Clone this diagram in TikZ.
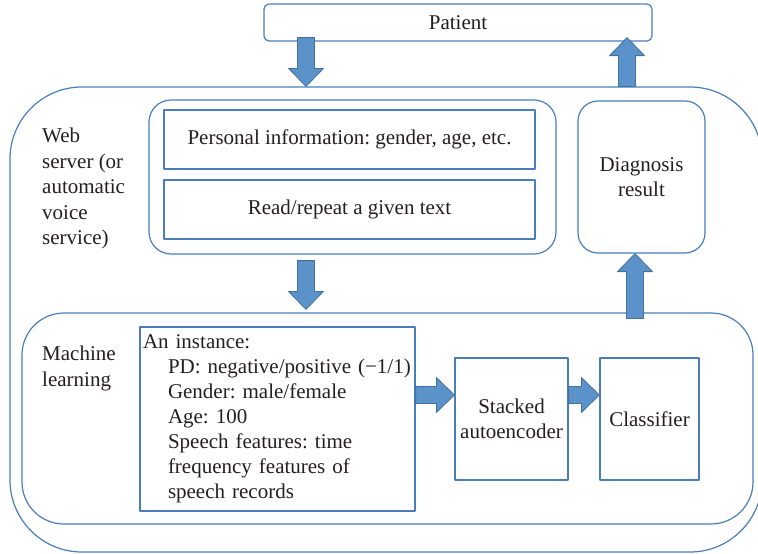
\documentclass[tikz,border=0pt]{standalone}
\usepackage{fontspec}
\setmainfont{Liberation Serif}
\usetikzlibrary{calc}
\definecolor{boxline}{RGB}{74,126,187}
\definecolor{arrowfill}{RGB}{91,146,201}
\definecolor{arrowline}{RGB}{65,113,156}
\definecolor{textcol}{RGB}{35,31,32}
\frenchspacing
% block arrow from #1 to #2 (tip at #2)
\newcommand{\fatarrow}[2]{%
  \path (#1) coordinate (fa-s) (#2) coordinate (fa-t);
  \path ($(fa-t)!18pt!(fa-s)$) coordinate (fa-b);
  \filldraw[fat arrow] ($(fa-s)!8.5pt!90:(fa-t)$) -- ($(fa-b)!8.5pt!-90:(fa-s)$) -- ($(fa-b)!17.5pt!-90:(fa-s)$)
    -- (fa-t) -- ($(fa-b)!17.5pt!90:(fa-s)$) -- ($(fa-b)!8.5pt!90:(fa-s)$) -- ($(fa-s)!8.5pt!-90:(fa-t)$) -- cycle;
}
\begin{document}
\begin{tikzpicture}[x=1pt, y=-1pt, line join=round, font=\fontsize{21}{25.5}\selectfont, text=textcol]
	\tikzset{box/.style={draw=boxline, line width=1.2pt, inner sep=0pt, align=center},
		fat arrow/.style={fill=arrowfill, draw=arrowline, line width=0.8pt}}
	\useasboundingbox (0,0) rectangle (758,554);
	% outer parts
	\node[box, rounded corners=5pt, minimum width=388pt, minimum height=37pt] (patient) at (458,22.5) {Patient};
	\node[box, rounded corners=72pt, minimum width=752pt, minimum height=465pt] (web) at (386,319.5) {};
	\node[anchor=north west, align=left, inner sep=0pt] (weblabel) at (42,128) {Web\\server (or\\automatic\\voice\\service)};
	% web server
	\node[box, rounded corners=22pt, minimum width=407pt, minimum height=154pt] (form) at (352.5,177) {};
	\node[box, minimum width=371pt, minimum height=59pt] (personal) at (349.5,139.5) {Personal information: gender, age, etc.};
	\node[box, minimum width=371pt, minimum height=59pt] (read) at (349.5,209.5) {Read/repeat a given text};
	\node[box, rounded corners=20pt, minimum width=127pt, minimum height=152pt] (diag) at (641.5,177) {Diagnosis\\result};
	% machine learning
	\node[box, rounded corners=42pt, minimum width=731pt, minimum height=211pt] (ml) at (387.5,418.5) {};
	\node[anchor=north west, align=left, inner sep=0pt] (mllabel) at (42,346) {Machine\\learning};
	\node[box, align=left, inner xsep=3pt, text width=269pt, minimum height=184pt, font=\fontsize{21}{25}\selectfont] (instance) at (277.5,419)
		{An instance:\\
		\hspace*{25pt}PD: negative/positive (−1/1)\\
		\hspace*{25pt}Gender: male/female\\
		\hspace*{25pt}Age: 100\\
		\hspace*{25pt}Speech features: time\\
		\hspace*{25pt}frequency features of\\
		\hspace*{25pt}speech records};
	\node[box, minimum width=113pt, minimum height=122pt] (stacked) at (511.5,419) {Stacked\\autoencoder};
	\node[box, minimum width=99pt, minimum height=122pt] (classifier) at (649.5,419) {Classifier};
	% arrows
	\coordinate (in) at (306,0);
	\coordinate (out) at (627,0);
	\coordinate (up) at (635,0);
	\coordinate (mid) at (0,395);
	\fatarrow{$(patient.south -| in)+(0,-4)$}{web.north -| in}
	\fatarrow{web.north -| out}{$(patient.south -| out)+(0,-4)$}
	\fatarrow{$(form.south -| in)+(0,6)$}{$(ml.north -| in)+(0,-3)$}
	\fatarrow{$(ml.north -| up)+(0,6)$}{diag.south -| up}
	\fatarrow{instance.east |- mid}{stacked.west |- mid}
	\fatarrow{stacked.east |- mid}{classifier.west |- mid}
\end{tikzpicture}
\end{document}
